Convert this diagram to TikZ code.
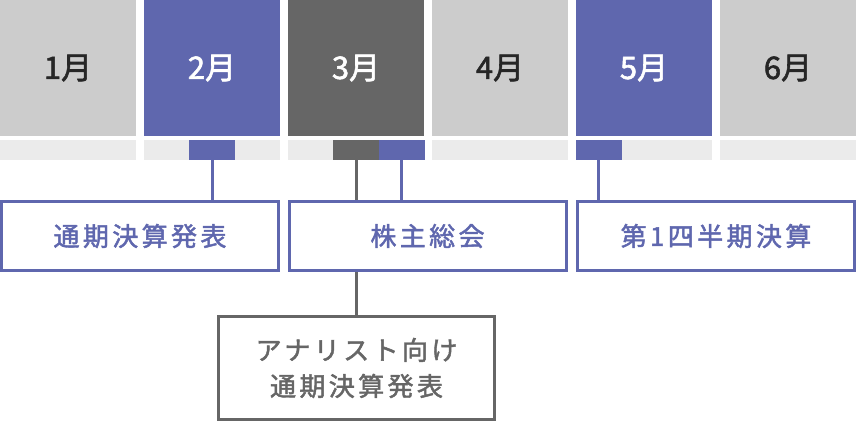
\documentclass[tikz,border=0pt]{standalone}
\usepackage{fontspec}
\usepackage{tikz}
\setmainfont[FakeBold=1.8]{Noto Sans CJK JP}
\newfontfamily\jpfont[LetterSpace=13,FakeBold=1.8]{Noto Sans CJK JP}
\definecolor{irblue}{HTML}{5F67AE}
\definecolor{irgray}{HTML}{666666}
\definecolor{celllight}{HTML}{CCCCCC}
\definecolor{striplight}{HTML}{EBEBEB}
\tikzset{month/.style={shape=rectangle,inner sep=0pt,minimum width=136,minimum height=136,font=\fontsize{31}{31}\selectfont},
	plain/.style={month,fill=celllight,text=black!85},
	marked/.style={month,fill=irblue,text=white},
	closed/.style={month,fill=irgray,text=white},
	strip/.style={shape=rectangle,inner sep=0pt,minimum width=136,minimum height=20,fill=striplight},
	tick/.style={shape=rectangle,inner sep=0pt,minimum width=46,minimum height=20},
	event/.style={shape=rectangle,draw=irblue,line width=3,inner sep=0pt,minimum width=277,minimum height=69,text=irblue,font=\jpfont\fontsize{26}{26}\selectfont},
	stem/.style={line width=3}}

\begin{document}
\begin{tikzpicture}[x=1pt,y=-1pt]
			\useasboundingbox (0,0) rectangle (856,424);
			\node[plain] (jan) at (68,68) {1月};
			\node[marked] (feb) at (212,68) {2月};
			\node[closed] (mar) at (356,68) {3月};
			\node[plain] (apr) at (500,68) {4月};
			\node[marked] (may) at (644,68) {5月};
			\node[plain] (jun) at (788,68) {6月};
			\foreach \x in {68,212,356,500,644,788}
				\node[strip] at (\x,150) {};
		
			\node[tick,fill=irblue] (tfeb) at (212,150) {};
			\node[tick,fill=irgray] (tmarg) at (356,150) {};
			\node[tick,fill=irblue] (tmarb) at (401.5,150) {};
			\node[tick,fill=irblue] (tmay) at (598.5,150) {};
		
			\node[event] (kessan) at (140,236) {通期決算発表};
			\node[event] (soukai) at (427.5,236) {株主総会};
			\node[event] (q1) at (716,236) {第1四半期決算};
			\node[event,draw=irgray,text=irgray,minimum width=276,minimum height=103,align=center,font=\jpfont\fontsize{26}{36}\selectfont] (analyst) at (356.5,368) {アナリスト向け\\通期決算発表};
		
			\path [stem,draw=irblue](tfeb) -- (tfeb |- kessan.north);
			\path [stem,draw=irblue](tmarb) -- (tmarb |- soukai.north);
			\path [stem,draw=irgray](tmarg) -- (tmarg |- soukai.north);
			\path [stem,draw=irgray](tmarg |- soukai.south) -- (tmarg |- analyst.north);
			\path [stem,draw=irblue](tmay) -- (tmay |- q1.north);
		\end{tikzpicture}
\end{document}
